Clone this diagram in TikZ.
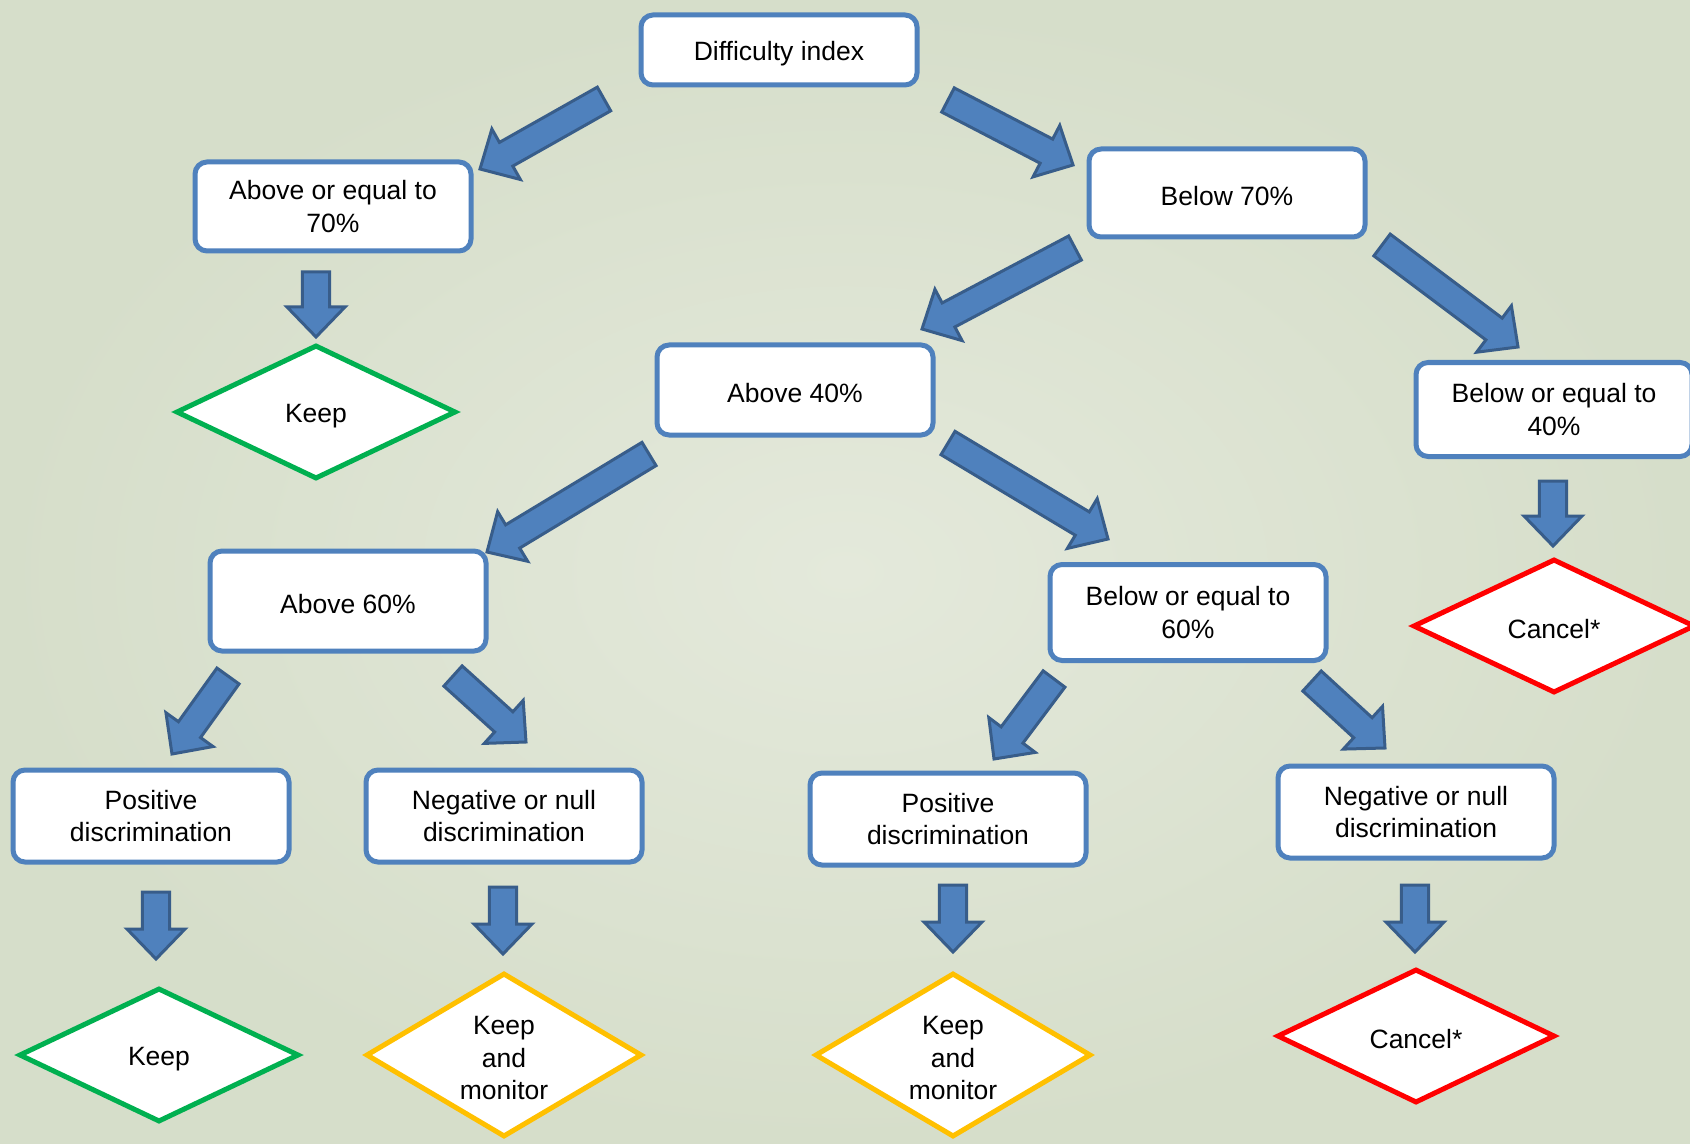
\documentclass[tikz,border=0pt]{standalone}
\usepackage{fontspec}
\setmainfont{Liberation Sans}
\usetikzlibrary{shapes.geometric,calc}
\definecolor{bgout}{RGB}{214,222,202}
\definecolor{bgin}{RGB}{228,233,219}
\definecolor{boxblue}{RGB}{79,129,189}
\definecolor{arrfill}{RGB}{79,129,189}
\definecolor{arrline}{RGB}{56,93,138}
\definecolor{kgreen}{RGB}{0,176,80}
\definecolor{kyellow}{RGB}{255,192,0}
\definecolor{kred}{RGB}{255,0,0}
\newcommand\blockarrow[2]{%
  \coordinate (bh) at ($(#2)!15pt!(#1)$);
  \filldraw[barrowstyle] ($(#1)!6.8pt!90:(#2)$) -- ($(bh)!6.8pt!90:(#2)$) -- ($(bh)!14.5pt!90:(#2)$) -- (#2) -- ($(bh)!14.5pt!-90:(#2)$) -- ($(bh)!6.8pt!-90:(#2)$) -- ($(#1)!6.8pt!-90:(#2)$) -- cycle;}
\newcommand\firstline{\rule{0pt}{12.5pt}}
\tikzset{
  txt/.style={font=\fontsize{13.25}{16.2}\selectfont, align=center, text=black},
  oneline/.style={execute at begin node={\rule{0pt}{12.8pt}}},
  box/.style={txt, draw=boxblue, fill=white, line width=2.5pt, rounded corners=6pt, minimum width=138pt, inner sep=2pt},
  dia/.style={txt, diamond, draw=#1, fill=white, line width=2.5pt, inner sep=0pt},
  barrowstyle/.style={fill=arrfill, draw=arrline, line width=1.5pt, line join=miter},
}
\begin{document}
\begin{tikzpicture}[x=0.5pt,y=-0.5pt]
\useasboundingbox (0,0) rectangle (1690,1144);
\shade[inner color=bgin, outer color=bgout] (0,0) rectangle (1690,1144);

% boxes
\node[box, oneline, minimum height=35pt] (diff) at (779,50) {Difficulty index};
\node[box, minimum height=44.5pt] (ab70) at (333,206.5) {Above or equal to\\70\%};
\node[box, oneline, minimum height=44pt] (be70) at (1227,193) {Below 70\%};
\node[box, oneline, minimum height=45pt] (ab40) at (795,390) {Above 40\%};
\node[box, minimum height=47pt] (be40) at (1554,409.5) {Below or equal to\\40\%};
\node[box, oneline, minimum height=50pt] (ab60) at (348,601) {Above 60\%};
\node[box, minimum height=48pt] (be60) at (1188,612.5) {Below or equal to\\60\%};
\node[box, minimum height=46pt] (pos1) at (151,816) {Positive\\discrimination};
\node[box, minimum height=46pt] (neg1) at (504,816) {Negative or null\\discrimination};
\node[box, minimum height=46pt] (pos2) at (948,819) {Positive\\discrimination};
\node[box, minimum height=46pt] (neg2) at (1416,812) {Negative or null\\discrimination};

% diamonds
\node[dia=kgreen, oneline, minimum width=140pt, minimum height=67pt, aspect=2.09] (keep1) at (316,412) {Keep};
\node[dia=kred, oneline, minimum width=141pt, minimum height=67pt, aspect=2.1] (can1) at (1554,626) {Cancel*};
\node[dia=kgreen, oneline, minimum width=140pt, minimum height=67pt, aspect=2.09] (keep2) at (159,1055) {Keep};
\node[dia=kyellow, minimum width=138pt, minimum height=82pt, aspect=1.68] (kam1) at (504,1055) {\firstline Keep\\and\\monitor};
\node[dia=kyellow, minimum width=138pt, minimum height=82pt, aspect=1.68] (kam2) at (953,1055) {\firstline Keep\\and\\monitor};
\node[dia=kred, oneline, minimum width=139pt, minimum height=67pt, aspect=2.07] (can2) at (1416,1036) {Cancel*};

% arrow end coordinates
\coordinate (a1t) at (604,99);   \coordinate (a1h) at (480,169);
\coordinate (a2t) at (948,100);  \coordinate (a2h) at (1073,165);
\coordinate (a3t) at (1075,248); \coordinate (a3h) at (922,329);
\coordinate (a4t) at (1382,245); \coordinate (a4h) at (1518,347);
\coordinate (a5t) at (316,272);  \coordinate (a5h) at (316,337);
\coordinate (a6t) at (649,454);  \coordinate (a6h) at (487,552);
\coordinate (a7t) at (948,443);  \coordinate (a7h) at (1108,539);
\coordinate (a8t) at (1553,481); \coordinate (a8h) at (1553,546);
\coordinate (a9t) at (228,676);  \coordinate (a9h) at (172,754);
\coordinate (a10t) at (453,676); \coordinate (a10h) at (526,742);
\coordinate (a11t) at (1054,679);\coordinate (a11h) at (994,759);
\coordinate (a12t) at (1312,681);\coordinate (a12h) at (1385,748);
\coordinate (a13t) at (156,892); \coordinate (a13h) at (156,959);
\coordinate (a14t) at (503,887); \coordinate (a14h) at (503,954);
\coordinate (a15t) at (953,885); \coordinate (a15h) at (953,952);
\coordinate (a16t) at (1415,885);\coordinate (a16h) at (1415,952);

\blockarrow{a1t}{a1h}
\blockarrow{a2t}{a2h}
\blockarrow{a3t}{a3h}
\blockarrow{a4t}{a4h}
\blockarrow{a5t}{a5h}
\blockarrow{a6t}{a6h}
\blockarrow{a7t}{a7h}
\blockarrow{a8t}{a8h}
\blockarrow{a9t}{a9h}
\blockarrow{a10t}{a10h}
\blockarrow{a11t}{a11h}
\blockarrow{a12t}{a12h}
\blockarrow{a13t}{a13h}
\blockarrow{a14t}{a14h}
\blockarrow{a15t}{a15h}
\blockarrow{a16t}{a16h}
\end{tikzpicture}
\end{document}
